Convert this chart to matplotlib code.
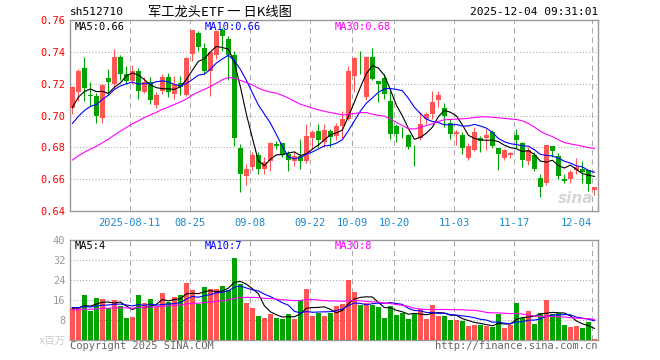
import numpy as np
import pandas as pd
import matplotlib
matplotlib.use("Agg")
import matplotlib.pyplot as plt

# trading days 2025-07-28 .. 2025-12-04 (market shut for National Day week)
holidays = pd.to_datetime(["2025-10-01", "2025-10-02", "2025-10-03",
                           "2025-10-06", "2025-10-07", "2025-10-08"])
days = pd.bdate_range("2025-07-28", "2025-12-04")
days = days[~days.isin(holidays)]

opens = [0.7048, 0.7146, 0.7296, 0.7126, 0.7125, 0.6985, 0.7233, 0.7198, 0.7365, 0.7260,
         0.7219, 0.7277, 0.7150, 0.7208, 0.7068, 0.7152, 0.7244, 0.7135, 0.7202, 0.7131,
         0.7385, 0.7517, 0.7427, 0.7281, 0.7381, 0.7535, 0.7483, 0.7381, 0.6798, 0.6619,
         0.6677, 0.6750, 0.6667, 0.6715, 0.6818, 0.6827, 0.6760, 0.6715, 0.6744, 0.6715,
         0.6860, 0.6902, 0.6835, 0.6904, 0.6869, 0.6931, 0.6979, 0.7250, 0.7338, 0.7119,
         0.7365, 0.7215, 0.7236, 0.7094, 0.6931, 0.6898, 0.6875, 0.6798, 0.6860, 0.6979,
         0.7010, 0.7098, 0.7048, 0.6952, 0.6881, 0.6875, 0.6735, 0.6785, 0.6860, 0.6860,
         0.6896, 0.6796, 0.6735, 0.6750, 0.6879, 0.6825, 0.6713, 0.6750, 0.6608, 0.6579,
         0.6808, 0.6744, 0.6598, 0.6598, 0.6656, 0.6667, 0.6656, 0.6529]
closes = [0.7179, 0.7279, 0.7173, 0.7122, 0.6996, 0.7190, 0.7212, 0.7365, 0.7260, 0.7219,
          0.7277, 0.7156, 0.7213, 0.7098, 0.7131, 0.7244, 0.7150, 0.7198, 0.7177, 0.7360,
          0.7535, 0.7431, 0.7277, 0.7396, 0.7531, 0.7500, 0.7381, 0.6860, 0.6631, 0.6667,
          0.6750, 0.6667, 0.6708, 0.6830, 0.6810, 0.6754, 0.6719, 0.6744, 0.6715, 0.6869,
          0.6896, 0.6848, 0.6910, 0.6867, 0.6937, 0.6979, 0.7277, 0.7360, 0.7335, 0.7365,
          0.7229, 0.7198, 0.7135, 0.6881, 0.6881, 0.6894, 0.6802, 0.6794, 0.6944, 0.7010,
          0.7083, 0.7131, 0.6994, 0.6885, 0.6896, 0.6798, 0.6806, 0.6896, 0.6840, 0.6879,
          0.6806, 0.6760, 0.6781, 0.6765, 0.6844, 0.6719, 0.6785, 0.6667, 0.6552, 0.6813,
          0.6777, 0.6619, 0.6588, 0.6646, 0.6677, 0.6646, 0.6567, 0.6550]
highs = [0.7188, 0.7290, 0.7365, 0.7210, 0.7140, 0.7200, 0.7290, 0.7417, 0.7380, 0.7310,
         0.7320, 0.7300, 0.7240, 0.7240, 0.7145, 0.7260, 0.7270, 0.7250, 0.7250, 0.7370,
         0.7540, 0.7530, 0.7458, 0.7406, 0.7540, 0.7552, 0.7500, 0.7406, 0.6820, 0.6698,
         0.6770, 0.6770, 0.6740, 0.6833, 0.6840, 0.6827, 0.6780, 0.6770, 0.6854, 0.6944,
         0.6906, 0.6944, 0.6944, 0.6917, 0.6952, 0.7031, 0.7313, 0.7369, 0.7406, 0.7375,
         0.7427, 0.7215, 0.7260, 0.7156, 0.6944, 0.6927, 0.6885, 0.6813, 0.7021, 0.7020,
         0.7152, 0.7152, 0.7077, 0.6979, 0.6906, 0.6896, 0.6827, 0.6927, 0.6869, 0.6917,
         0.6906, 0.6796, 0.6792, 0.6771, 0.6917, 0.6833, 0.6802, 0.6770, 0.6635, 0.6813,
         0.6808, 0.6765, 0.6635, 0.6656, 0.6735, 0.6715, 0.6660, 0.6550]
lows = [0.7010, 0.7090, 0.7090, 0.7060, 0.6950, 0.6950, 0.7130, 0.7175, 0.7220, 0.7200,
        0.7200, 0.7105, 0.7140, 0.7070, 0.7050, 0.7135, 0.7115, 0.7104, 0.7130, 0.7125,
        0.7344, 0.7406, 0.7260, 0.7125, 0.7354, 0.7406, 0.7220, 0.6810, 0.6520, 0.6563,
        0.6656, 0.6630, 0.6635, 0.6650, 0.6790, 0.6740, 0.6650, 0.6680, 0.6663, 0.6702,
        0.6790, 0.6800, 0.6800, 0.6800, 0.6848, 0.6856, 0.6969, 0.7146, 0.7260, 0.7098,
        0.7223, 0.7083, 0.7104, 0.6854, 0.6833, 0.6860, 0.6792, 0.6683, 0.6848, 0.6948,
        0.6979, 0.7056, 0.6927, 0.6854, 0.6813, 0.6760, 0.6723, 0.6777, 0.6773, 0.6785,
        0.6798, 0.6660, 0.6723, 0.6730, 0.6798, 0.6677, 0.6688, 0.6652, 0.6490, 0.6563,
        0.6740, 0.6604, 0.6579, 0.6573, 0.6635, 0.6577, 0.6527, 0.6500]
# volume, millions of units
volumes = [12.7, 12.7, 18.0, 11.6, 16.9, 16.4, 13.0, 16.1, 13.6, 8.9,
           9.2, 18.0, 14.7, 16.4, 13.1, 18.8, 15.3, 17.3, 18.0, 22.8,
           20.0, 14.5, 21.2, 20.4, 20.4, 21.6, 20.0, 32.8, 22.4, 14.8,
           12.8, 9.6, 8.8, 10.4, 8.8, 8.4, 10.4, 8.4, 16.0, 20.4,
           9.6, 10.8, 9.6, 10.8, 13.6, 14.4, 24.0, 19.2, 14.0, 14.8,
           14.0, 13.2, 8.8, 13.6, 10.0, 10.8, 8.4, 10.4, 12.4, 8.4,
           14.0, 9.6, 9.6, 8.0, 8.0, 7.6, 5.6, 6.0, 6.0, 5.6,
           5.2, 10.4, 4.8, 6.0, 14.8, 8.8, 11.6, 6.4, 10.8, 16.0,
           10.4, 10.8, 6.0, 5.2, 5.6, 4.8, 7.2, 0.4]

# sessions before the window, estimated so the moving averages start where they do
prev_closes = [0.648, 0.650, 0.652, 0.649, 0.651, 0.654, 0.656, 0.653, 0.655, 0.658,
               0.660, 0.657, 0.662, 0.665, 0.668, 0.671, 0.670, 0.674, 0.677, 0.680,
               0.683, 0.681, 0.686, 0.688, 0.687, 0.695, 0.700, 0.704, 0.708]
prev_volumes = [10.5, 12.0, 11.0, 13.5, 10.0, 11.5, 12.5, 10.8, 11.2, 12.0,
                11.8, 10.6, 12.4, 11.0, 11.9, 12.3, 10.9, 11.7, 11.4, 12.0,
                14.0, 12.5, 13.8, 12.9, 13.3, 12.0, 13.5, 12.4, 12.9]

tick_days = ["2025-08-11", "2025-08-25", "2025-09-08", "2025-09-22", "2025-10-09",
             "2025-10-20", "2025-11-03", "2025-11-17", "2025-12-04"]
tick_labels = ["2025-08-11", "08-25", "09-08", "09-22", "10-09",
               "10-20", "11-03", "11-17", "12-04"]

RED = "#ff5555"
GREEN = "#00a300"
GRID = "#aaaaaa"
MONO = "DejaVu Sans Mono"

n = len(closes)
x = np.arange(n)
o = np.array(opens)
c = np.array(closes)
h = np.array(highs)
l = np.array(lows)
v = np.array(volumes)
up = c >= o
colors = np.where(up, RED, GREEN)

def moving(full, k):
    return pd.Series(full).rolling(k).mean().to_numpy()[-n:]

full_c = np.concatenate([prev_closes, c])
full_v = np.concatenate([prev_volumes, v])
ma_p = {k: moving(full_c, k) for k in (5, 10, 30)}
ma_v = {k: moving(full_v, k) for k in (5, 10, 30)}
ma_colors = {5: "black", 10: "blue", 30: "#ff00ff"}

tick_pos = [list(days.strftime("%Y-%m-%d")).index(d) for d in tick_days]

W, H = 660, 360
fig = plt.figure(figsize=(6.6, 3.6), dpi=100)
fig.patch.set_facecolor("white")

def px(xp, yp):
    return xp / W, 1 - yp / H

L0, R0 = 69.5, 598
ax = fig.add_axes([L0 / W, 1 - 211 / H, (R0 - L0) / W, 191 / H])
axv = fig.add_axes([L0 / W, 1 - 340 / H, (R0 - L0) / W, 100 / H])

for a in (ax, axv):
    a.set_xlim(-0.08, 88)
    for s in a.spines.values():
        s.set_color("#999999")
        s.set_linewidth(1)
    for t in tick_pos:
        a.axvline(t, color=GRID, lw=0.75, ls=(0, (5, 4)), zorder=0)
    a.tick_params(length=0)

# candles
ax.vlines(x + 0.4, l, h, colors=colors, lw=0.8, zorder=2)
body = np.maximum(np.abs(c - o), 0.0004)
ax.bar(x + 0.4, body, bottom=np.minimum(o, c), width=0.8, color=colors, zorder=3)
for k in (5, 10, 30):
    ax.plot(x + 0.4, ma_p[k], color=ma_colors[k], lw=0.8, zorder=4)

ax.set_ylim(0.64, 0.76)
yt = [0.64, 0.66, 0.68, 0.70, 0.72, 0.74, 0.76]
ax.set_yticks(yt)
ax.set_yticklabels([f"{t:.2f}" for t in yt], color="red", fontsize=7.5, family=MONO)
for t in yt[1:-1]:
    ax.axhline(t, color=GRID, lw=0.75, ls=(0, (1, 2)), zorder=0)
ax.tick_params(axis="y", pad=3)
ax.set_xticks(tick_pos)
ax.set_xticklabels(tick_labels, color="#1a88d0", fontsize=7.5, family=MONO)
ax.get_xticklabels()[-1].set_ha("right")
ax.tick_params(axis="x", pad=5)

# volume
axv.bar(x + 0.4, v, width=0.8, color=colors, zorder=3)
for k in (5, 10, 30):
    axv.plot(x + 0.4, ma_v[k], color=ma_colors[k], lw=0.8, zorder=4)
axv.set_ylim(0, 40)
vt = [0, 8, 16, 24, 32, 40]
axv.set_yticks(vt)
axv.set_yticklabels(["x百万"] + [str(t) for t in vt[1:]], color="#999999", fontsize=7.5,
                    family=[MONO, "Noto Sans CJK SC"])
axv.get_yticklabels()[0].set_color("#cccccc")
for t in vt[1:-1]:
    axv.axhline(t, color=GRID, lw=0.75, ls=(0, (1, 2)), zorder=0)
axv.tick_params(axis="y", pad=3)
axv.set_xticks([])

# legends
fs = 7.5
ax.text(*px(75, 27), f"MA5:{ma_p[5][-1]:.2f}", transform=fig.transFigure, color="black",
        fontsize=fs, family=MONO, va="center")
ax.text(*px(205, 27), f"MA10:{ma_p[10][-1]:.2f}", transform=fig.transFigure, color="blue",
        fontsize=fs, family=MONO, va="center")
ax.text(*px(335, 27), f"MA30:{ma_p[30][-1]:.2f}", transform=fig.transFigure, color="#ff00ff",
        fontsize=fs, family=MONO, va="center")
axv.text(*px(75, 246), f"MA5:{int(ma_v[5][-1])}", transform=fig.transFigure, color="black",
         fontsize=fs, family=MONO, va="center")
axv.text(*px(205, 246), f"MA10:{int(ma_v[10][-1])}", transform=fig.transFigure, color="blue",
         fontsize=fs, family=MONO, va="center")
axv.text(*px(335, 246), f"MA30:{int(ma_v[30][-1])}", transform=fig.transFigure, color="#ff00ff",
         fontsize=fs, family=MONO, va="center")

# header / footer
fig.text(*px(70, 12), "sh512710", fontsize=8, family=MONO, va="center")
fig.text(*px(148, 12), "军工龙头ETF 一 日K线图", fontsize=9.5,
         family=["Noto Sans CJK SC", "DejaVu Sans"], va="center")
fig.text(*px(598, 12), "2025-12-04 09:31:01", fontsize=8, family=MONO, va="center", ha="right")
fig.text(*px(70, 346), "Copyright 2025 SINA.COM", fontsize=7.5, family=MONO,
         color="#666666", va="center")
fig.text(*px(598, 346), "http://finance.sina.com.cn", fontsize=7.5, family=MONO,
         color="#666666", va="center", ha="right")
fig.text(*px(593, 198), "sina", fontsize=11, fontweight="bold", style="italic",
         color="#cccccc", ha="right", va="center", alpha=0.8)

fig.savefig("out.png", dpi=100)
